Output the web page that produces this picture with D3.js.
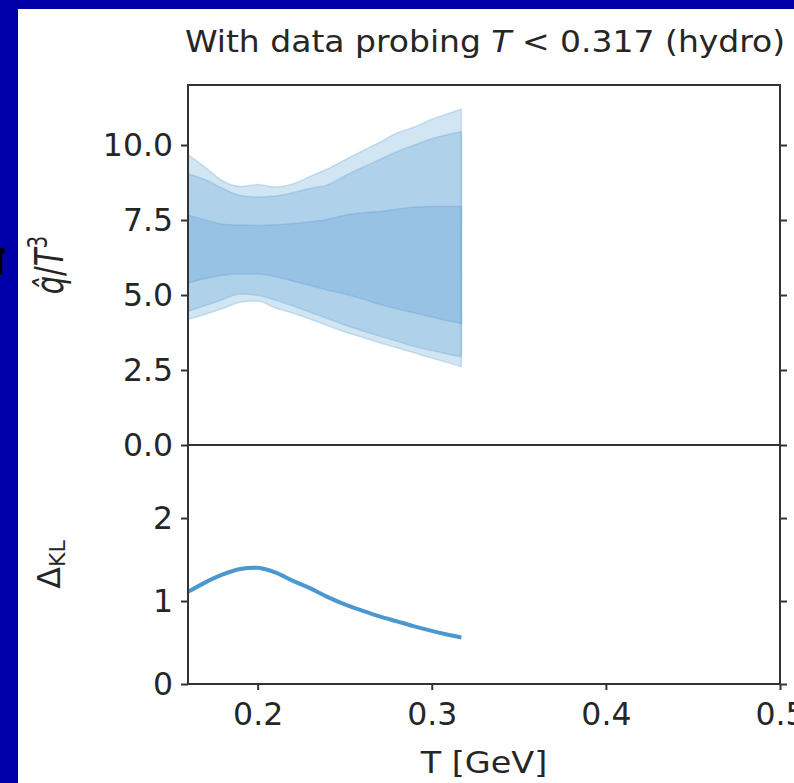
<!DOCTYPE html>
<html><head><meta charset="utf-8">
<script src="https://cdn.jsdelivr.net/npm/d3@7"></script>
<style>body{margin:0;background:#fff;} svg{display:block;}</style>
</head><body>
<svg id="c" width="794" height="783"></svg>
<script>
// ---- data ----
const temps      = [0.16,0.17,0.18,0.19,0.20,0.21,0.22,0.23,0.24,0.25,0.26,0.27,0.28,0.29,0.30,0.31,0.317];
const outerHigh  = [9.68,9.25,8.80,8.62,8.68,8.60,8.70,8.95,9.20,9.50,9.80,10.09,10.40,10.60,10.86,11.06,11.20];
const midHigh    = [9.04,8.84,8.55,8.32,8.27,8.30,8.41,8.55,8.67,8.97,9.25,9.51,9.78,10.00,10.21,10.36,10.44];
const innerHigh  = [7.67,7.50,7.36,7.33,7.32,7.34,7.38,7.44,7.52,7.66,7.74,7.78,7.86,7.93,7.95,7.95,7.95];
const innerLow   = [5.40,5.55,5.66,5.70,5.70,5.62,5.47,5.32,5.17,5.03,4.87,4.69,4.54,4.40,4.27,4.13,4.05];
const midLow     = [4.45,4.65,4.85,5.03,4.99,4.83,4.64,4.43,4.22,4.00,3.81,3.63,3.46,3.28,3.15,3.02,2.94];
const outerLow   = [4.18,4.36,4.55,4.76,4.80,4.57,4.40,4.20,3.98,3.77,3.59,3.41,3.24,3.07,2.90,2.73,2.61];
const klDiv      = [1.11,1.225,1.32,1.385,1.40,1.345,1.245,1.155,1.05,0.96,0.885,0.815,0.755,0.695,0.64,0.59,0.56];

const xTicks = [0.2,0.3,0.4,0.5];
const xTickLabels = ["0.2","0.3","0.4","0.5"];
const qTicks = [0,2.5,5,7.5,10];
const qTickLabels = ["0.0","2.5","5.0","7.5","10.0"];
const klTicks = [0,1,2];
const klTickLabels = ["0","1","2"];

const titleText = ["With data probing ", "T", " < 0.317 (hydro)"];
const xLabelText = "T [GeV]";

// ---- layout ----
const L = 188, R = 780, TOP = 85, MID = 445, BOT = 684;
const ink = "#262626", spine = "#333333";
const col = "rgb(74,152,206)";
const FONT = "DejaVu Sans";
const TICKFS = 31.5;

const svg = d3.select("#c");
// background frame
svg.append("rect").attr("x",0).attr("y",0).attr("width",794).attr("height",783).attr("fill","#0000a8");
// partial black letter on the left edge
const clip = svg.append("defs").append("clipPath").attr("id","lc");
clip.append("rect").attr("x",0).attr("y",0).attr("width",4.5).attr("height",783);
svg.append("text").attr("clip-path","url(#lc)").attr("x",-1).attr("y",275)
  .attr("text-anchor","middle").attr("font-family",FONT).attr("font-weight","bold")
  .attr("font-size",38).attr("fill","#000").text("T");
svg.append("rect").attr("x",18).attr("y",9).attr("width",776).attr("height",774).attr("fill","#fff");

const x = d3.scaleLinear().domain([0.16,0.5]).range([L,R]);
const yq = d3.scaleLinear().domain([0,12]).range([MID,TOP]);
const yk = d3.scaleLinear().domain([0,2.88]).range([BOT,MID]);

// bands
const bands = [[outerLow,outerHigh],[midLow,midHigh],[innerLow,innerHigh]];
bands.forEach(([lo,hi]) => {
  const area = d3.area().x((d,i)=>x(temps[i])).y0((d,i)=>yq(lo[i])).y1((d,i)=>yq(hi[i])).curve(d3.curveMonotoneX);
  svg.append("path").attr("d", area(temps)).attr("fill",col).attr("fill-opacity",0.25)
    .attr("stroke",col).attr("stroke-opacity",0.25).attr("stroke-width",1.5);
});

// KL line
const line = d3.line().x((d,i)=>x(temps[i])).y((d,i)=>yk(klDiv[i])).curve(d3.curveCatmullRom);
svg.append("path").attr("d", line(temps)).attr("fill","none").attr("stroke",col).attr("stroke-width",4).attr("stroke-linecap","butt");

// axes
function styleAxis(g){
  g.select(".domain").remove();
  g.selectAll(".tick line").attr("stroke",spine).attr("stroke-width",2);
  g.selectAll(".tick text").attr("fill",ink).attr("font-family",FONT).attr("font-size",TICKFS);
}
const fq = d => qTickLabels[qTicks.indexOf(d)];
const fk = d => klTickLabels[klTicks.indexOf(d)];
const fx = d => xTickLabels[xTicks.indexOf(d)];
svg.append("g").attr("transform",`translate(${L},0)`)
  .call(d3.axisLeft(yq).tickValues(qTicks).tickFormat(fq).tickSize(7).tickPadding(8)).call(styleAxis);
svg.append("g").attr("transform",`translate(${L},0)`)
  .call(d3.axisLeft(yk).tickValues(klTicks).tickFormat(fk).tickSize(7).tickPadding(8)).call(styleAxis);
svg.append("g").attr("transform",`translate(${R},0)`)
  .call(d3.axisRight(yq).tickValues(qTicks).tickFormat("").tickSize(7)).call(styleAxis);
svg.append("g").attr("transform",`translate(${R},0)`)
  .call(d3.axisRight(yk).tickValues(klTicks).tickFormat("").tickSize(7)).call(styleAxis);
svg.append("g").attr("transform",`translate(0,${BOT})`)
  .call(d3.axisBottom(x).tickValues(xTicks).tickFormat(fx).tickSize(6).tickPadding(13)).call(styleAxis);

// spines
svg.append("rect").attr("x",L).attr("y",TOP).attr("width",R-L).attr("height",MID-TOP)
  .attr("fill","none").attr("stroke",spine).attr("stroke-width",2);
svg.append("rect").attr("x",L).attr("y",MID).attr("width",R-L).attr("height",BOT-MID)
  .attr("fill","none").attr("stroke",spine).attr("stroke-width",2);

// title
const cx = (L+R)/2;
const tt = svg.append("text").attr("transform",`translate(${cx+1},52) scale(1.1,1)`).attr("text-anchor","middle")
  .attr("font-family",FONT).attr("font-size",30).attr("fill",ink);
tt.append("tspan").text(titleText[0]);
tt.append("tspan").attr("font-style","italic").text(titleText[1]);
tt.append("tspan").text(titleText[2]);

// x label
svg.append("text").attr("transform",`translate(${cx},773) scale(1.08,1)`).attr("text-anchor","middle")
  .attr("font-family",FONT).attr("font-size",31).attr("fill",ink).text(xLabelText);

// y labels
const yl1 = svg.append("text").attr("transform",`translate(63,${(TOP+MID)/2}) scale(1.35,1) rotate(-90)`).attr("text-anchor","middle")
  .attr("font-family",FONT).attr("font-size",29).attr("fill",ink);
yl1.append("tspan").attr("font-style","italic").text("q\u0302");
yl1.append("tspan").text("/");
yl1.append("tspan").attr("font-style","italic").text("T");
yl1.append("tspan").attr("font-size",20).attr("dy",-12).text("3");

const yl2 = svg.append("text").attr("transform",`translate(60,${(MID+BOT)/2}) rotate(-90)`).attr("text-anchor","middle")
  .attr("font-family",FONT).attr("font-size",32).attr("fill",ink);
yl2.append("tspan").text("\u0394");
yl2.append("tspan").attr("font-size",22).attr("dy",5).text("KL");
</script>
</body></html>
